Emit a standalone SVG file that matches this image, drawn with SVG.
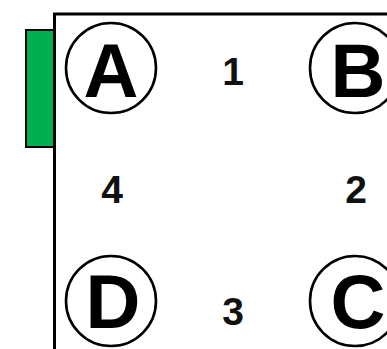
<svg xmlns="http://www.w3.org/2000/svg" width="387" height="349" viewBox="0 0 387 349">
<style>
.ring{fill:#fff;stroke:#000;stroke-width:2.6}
.big{font-family:"Liberation Sans",Arial,sans-serif;font-weight:bold;font-size:76px;text-anchor:middle;fill:#000}
.num{font-family:"Liberation Sans",Arial,sans-serif;font-weight:bold;font-size:39px;text-anchor:middle;fill:#111}
</style>
<rect x="0" y="0" width="387" height="349" fill="#fff"/>
<g id="frame">
<rect x="54.5" y="14" width="345" height="345" fill="#fff" stroke="#000" stroke-width="3"/>
<rect id="door" x="26" y="30" width="28" height="117" fill="#00b050" stroke="#000" stroke-width="2"/>
</g>
<g id="connectors"></g>
<g id="nodeA"><circle class="ring" cx="111" cy="68" r="45"/><text class="big" x="111" y="97">A</text></g>
<g id="nodeB"><circle class="ring" cx="355" cy="68" r="45"/><text class="big" x="358" y="97">B</text></g>
<g id="nodeD"><circle class="ring" cx="111" cy="301" r="45"/><text class="big" x="113" y="328">D</text></g>
<g id="nodeC"><circle class="ring" cx="355" cy="301" r="45"/><text class="big" x="358" y="328">C</text></g>
<g id="labels">
<text class="num" x="233" y="85">1</text>
<text class="num" x="356" y="203">2</text>
<text class="num" x="233" y="325">3</text>
<text class="num" x="112" y="203">4</text>
</g>
</svg>
